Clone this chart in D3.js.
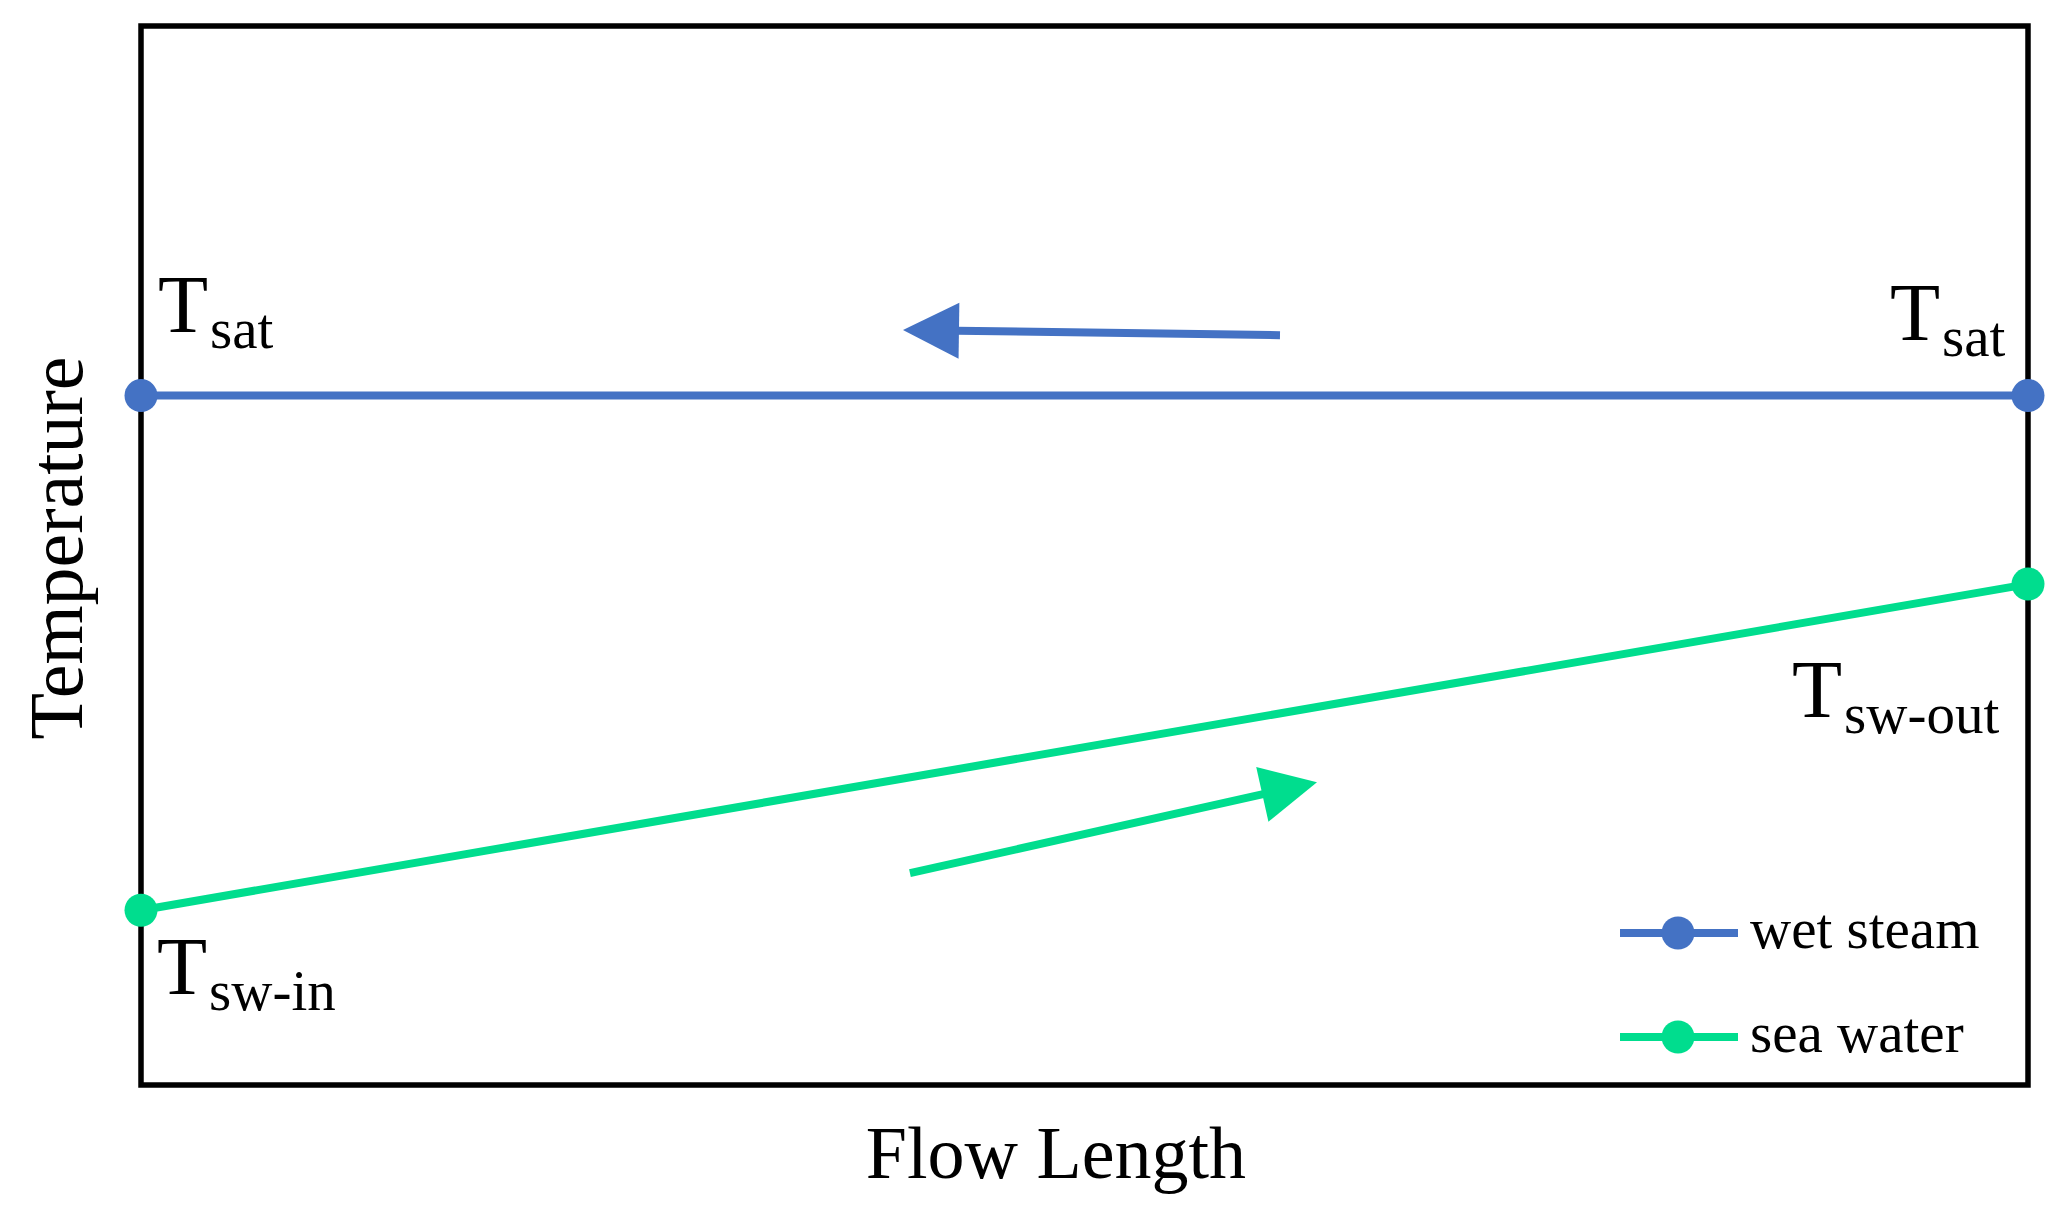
<!DOCTYPE html>
<html>
<head>
<meta charset="utf-8">
<script src="https://cdn.jsdelivr.net/npm/d3@7"></script>
<style>
  html, body { margin: 0; padding: 0; background: #fff; }
  svg { display: block; }
  text { font-family: "Liberation Serif", "DejaVu Serif", serif; fill: #000; }
</style>
</head>
<body>
<svg id="chart" width="2059" height="1212"></svg>
<script>
// ---- data ----
const seriesNames = ["wet steam", "sea water"];
const seriesColors = ["#4472C4", "#00DD8E"];
const flowPositions = [0, 1];
const wetSteamTemps = [65.1, 65.1];
const seaWaterTemps = [16.5, 47.3];
const pointLabels = [
  { main: "T", sub: "sat", series: 0, idx: 0 },
  { main: "T", sub: "sat", series: 0, idx: 1 },
  { main: "T", sub: "sw-in", series: 1, idx: 0 },
  { main: "T", sub: "sw-out", series: 1, idx: 1 }
];
// flow direction arrows (data coordinates: [x0, y0] -> [x1, y1])
const steamArrow = [[0.6036, 70.8], [0.4038, 71.3]];
const waterArrow = [[0.4075, 20.0], [0.6232, 28.6]];
const xTitle = "Flow Length";
const yTitle = "Temperature";

// ---- layout ----
const svg = d3.select("#chart");
const L = 141, R = 2028, T = 26, B = 1085;
const x = d3.scaleLinear().domain([0, 1]).range([L, R]);
const y = d3.scaleLinear().domain([0, 100]).range([B, T]);

const series = [
  flowPositions.map((f, i) => ({ x: f, y: wetSteamTemps[i] })),
  flowPositions.map((f, i) => ({ x: f, y: seaWaterTemps[i] }))
];

// frame
svg.append("rect")
  .attr("x", L).attr("y", T)
  .attr("width", R - L).attr("height", B - T)
  .attr("fill", "none").attr("stroke", "#000").attr("stroke-width", 5.5);

// lines
const line = d3.line().x(d => x(d.x)).y(d => y(d.y));
series.forEach((s, i) => {
  svg.append("path").datum(s)
    .attr("d", line)
    .attr("fill", "none")
    .attr("stroke", seriesColors[i])
    .attr("stroke-width", 8);
});
// dots
series.forEach((s, i) => {
  svg.selectAll(null).data(s).enter().append("circle")
    .attr("cx", d => x(d.x)).attr("cy", d => y(d.y))
    .attr("r", 16.5).attr("fill", seriesColors[i]);
});

// arrows
function arrow(a, color) {
  const x0 = x(a[0][0]), y0 = y(a[0][1]), x1 = x(a[1][0]), y1 = y(a[1][1]);
  const dx = x1 - x0, dy = y1 - y0, len = Math.hypot(dx, dy);
  const ux = dx / len, uy = dy / len;
  const headL = 56, headW = 28;
  const bx = x1 - ux * headL, by = y1 - uy * headL;
  svg.append("line")
    .attr("x1", x0).attr("y1", y0).attr("x2", bx + ux * 2).attr("y2", by + uy * 2)
    .attr("stroke", color).attr("stroke-width", 8);
  svg.append("path")
    .attr("d", d3.line()([
      [x1, y1],
      [bx - uy * headW, by + ux * headW],
      [bx + uy * headW, by - ux * headW]
    ]) + "Z")
    .attr("fill", color);
}
arrow(steamArrow, seriesColors[0]);
arrow(waterArrow, seriesColors[1]);

// point labels
const labelOffsets = [
  { dx: 17, dy: -64 },   // Tsat left
  { dx: -138, dy: -56 }, // Tsat right
  { dx: 16, dy: 84 },    // Tsw-in
  { dx: -236, dy: 133 }  // Tsw-out
];
pointLabels.forEach((p, i) => {
  const d = series[p.series][p.idx];
  const t = svg.append("text")
    .attr("x", x(d.x) + labelOffsets[i].dx)
    .attr("y", y(d.y) + labelOffsets[i].dy)
    .style("font-size", "82px");
  t.append("tspan").text(p.main);
  t.append("tspan").attr("dy", 16).attr("dx", 2).style("font-size", "57px").text(p.sub);
});

// legend
const legY = [933, 1037];
seriesNames.forEach((name, i) => {
  const g = svg.append("g");
  g.append("line").attr("x1", 1620).attr("x2", 1738)
    .attr("y1", legY[i]).attr("y2", legY[i])
    .attr("stroke", seriesColors[i]).attr("stroke-width", 8);
  g.append("circle").attr("cx", 1678).attr("cy", legY[i]).attr("r", 16.5)
    .attr("fill", seriesColors[i]);
  g.append("text").attr("x", 1750).attr("y", legY[i] + 15)
    .style("font-size", "57px").text(name);
});

// axis titles
svg.append("text")
  .attr("x", 1056).attr("y", 1178)
  .attr("text-anchor", "middle")
  .style("font-size", "74px")
  .text(xTitle);
svg.append("text")
  .attr("transform", "translate(82,548) rotate(-90)")
  .attr("text-anchor", "middle")
  .style("font-size", "76px")
  .text(yTitle);
</script>
</body>
</html>
